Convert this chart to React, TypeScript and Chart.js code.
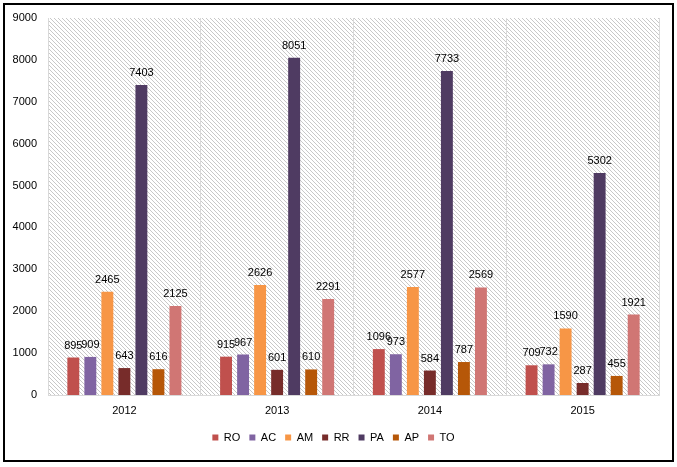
import React, { useEffect, useRef } from "react";
import { Chart, registerables } from "chart.js";

Chart.register(...registerables);

const years = ["2012", "2013", "2014", "2015"];
const seriesNames = ["RO", "AC", "AM", "RR", "PA", "AP", "TO"];
const RO = [895, 915, 1096, 709];
const AC = [909, 967, 973, 732];
const AM = [2465, 2626, 2577, 1590];
const RR = [643, 601, 584, 287];
const PA = [7403, 8051, 7733, 5302];
const AP = [616, 610, 787, 455];
const TO = [2125, 2291, 2569, 1921];
const seriesColors = ["#C0504D", "#8064A2", "#F79646", "#772C2A", "#4F3B62", "#B65708", "#D07674"];
const yTicks = [0, 1000, 2000, 3000, 4000, 5000, 6000, 7000, 8000, 9000];

const FONT = "'Liberation Sans', Arial, sans-serif";

function makePattern(ctx: CanvasRenderingContext2D) {
  const c = document.createElement("canvas");
  const n = 4;
  c.width = n;
  c.height = n;
  const x = c.getContext("2d")!;
  x.fillStyle = "#ffffff";
  x.fillRect(0, 0, n, n);
  x.fillStyle = "#c8c8c8";
  for (let i = 0; i < n; i++) x.fillRect(i, i, 1, 1);
  return ctx.createPattern(c, "repeat");
}

const bgPlugin = {
  id: "bgPlugin",
  beforeDraw(chart: any) {
    const { ctx, chartArea } = chart;
    ctx.save();
    ctx.fillStyle = "#ffffff";
    ctx.fillRect(0, 0, chart.width, chart.height);
    const p = makePattern(ctx);
    if (p) {
      ctx.fillStyle = p;
      ctx.fillRect(chartArea.left, chartArea.top, chartArea.right - chartArea.left, chartArea.bottom - chartArea.top);
    }
    ctx.restore();
  },
  afterDraw(chart: any) {
    const { ctx } = chart;
    ctx.save();
    ctx.strokeStyle = "#000000";
    ctx.lineWidth = 2;
    ctx.strokeRect(4, 4, 669, 457);
    ctx.restore();
  },
};

const labelPlugin = {
  id: "labelPlugin",
  afterDatasetsDraw(chart: any) {
    const { ctx } = chart;
    ctx.save();
    ctx.font = `11px ${FONT}`;
    ctx.fillStyle = "#000000";
    ctx.textAlign = "center";
    ctx.textBaseline = "middle";
    chart.data.datasets.forEach((ds: any, di: number) => {
      const meta = chart.getDatasetMeta(di);
      meta.data.forEach((bar: any, i: number) => {
        ctx.fillText(String(ds.data[i]), bar.x, bar.y - 12);
      });
    });
    ctx.restore();
  },
};

export default function App() {
  const ref = useRef<HTMLCanvasElement>(null);
  useEffect(() => {
    document.body.style.margin = "0";
    const all = [RO, AC, AM, RR, PA, AP, TO];
    const chart = new Chart(ref.current!, {
      type: "bar",
      data: {
        labels: years,
        datasets: seriesNames.map((name, i) => ({
          label: name,
          data: all[i],
          backgroundColor: seriesColors[i],
          borderWidth: 0,
          barPercentage: 0.7,
          categoryPercentage: 0.78,
        })),
      },
      options: {
        animation: false,
        responsive: true,
        maintainAspectRatio: false,
        layout: { padding: { left: 8, right: 18, top: 18, bottom: 14 } },
        plugins: {
          tooltip: { enabled: false },
          legend: {
            position: "bottom",
            labels: {
              boxWidth: 6,
              boxHeight: 6,
              padding: 9,
              color: "#000000",
              font: { family: FONT, size: 11 },
            },
          },
        },
        scales: {
          x: {
            offset: true,
            grid: { display: true, offset: true, color: "#d9d9d9", drawTicks: false },
            border: { display: true, color: "#d9d9d9" },
            ticks: { color: "#000000", font: { family: FONT, size: 11 }, padding: 9 },
            afterFit(scale: any) {
              scale.height = 28;
            },
          },
          y: {
            min: 0,
            max: 9000,
            afterBuildTicks(scale: any) {
              scale.ticks = yTicks.map((v) => ({ value: v }));
            },
            grid: { display: false, drawTicks: false },
            border: { display: false },
            ticks: {
              color: "#000000",
              font: { family: FONT, size: 11 },
              padding: 11,
              callback: (v: any) => String(v),
            },
            afterFit(scale: any) {
              scale.width = 40;
            },
          },
        },
      },
      plugins: [bgPlugin, labelPlugin],
    } as any);
    return () => chart.destroy();
  }, []);
  return (
    <div style={{ width: 677, height: 467, position: "relative" }}>
      <canvas ref={ref} />
    </div>
  );
}
